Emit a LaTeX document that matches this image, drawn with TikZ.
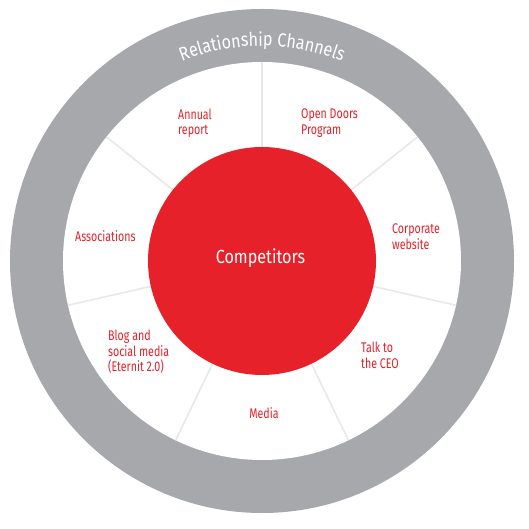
\documentclass[tikz,border=0pt]{standalone}
\usepackage{fontspec}
\usetikzlibrary{decorations.text}
\newfontfamily\labelfont{Fira Sans}[FakeStretch=0.76]
\newfontfamily\headfont{Fira Sans}[FakeStretch=0.85]
\definecolor{ringgray}{RGB}{166,168,171}
\definecolor{eternitred}{RGB}{230,33,41}
\definecolor{seplight}{RGB}{232,232,232}

\begin{document}
\begin{tikzpicture}[x=1pt, y=1pt,
    channel/.style={font=\labelfont\fontsize{14}{15.5}\selectfont, text=eternitred, align=left, inner sep=0pt, anchor=west}]

    \useasboundingbox (-262,-268) rectangle (267,261);

    % ---------------------------------------------------
    % Rings
    % ---------------------------------------------------
    \fill[ringgray] (0,0) circle[radius=252];
    \fill[white] (0,0) circle[radius=199];

    % Separators between the seven channels
    \foreach \a in {90, 38.57, -12.86, -64.29, -115.71, -167.14, 141.43} {
        \draw[seplight, line width=1.6] (\a:110) -- (\a:199);
    }

    % Centre disc
    \fill[eternitred] (0,0) circle[radius=114];
    \node[font=\headfont\fontsize{19}{22}\selectfont, text=white] (centre) at (-1.5,3) {Competitors};

    % Title along the ring
    \path[decorate, decoration={text along path, text align=center,
        text={|\headfont\fontsize{19}{22}\selectfont\color{white}|Relationship Channels}}]
        (113:215) arc[start angle=113, end angle=67, radius=215];

    % ---------------------------------------------------
    % Channel labels
    % ---------------------------------------------------
    \node[channel] (annual) at (-84,138) {Annual\\report};
    \node[channel] (opendoors) at (39,138) {Open Doors\\Program};
    \node[channel] (website) at (130,24.5) {Corporate\\website};
    \node[channel] (assoc) at (-187,25) {Associations};
    \node[channel] (blog) at (-154,-91) {Blog and\\social media\\(Eternit 2.0)};
    \node[channel] (ceo) at (99,-94.5) {Talk to\\the CEO};
    \node[channel, anchor=center] (media) at (2,-152) {Media};

\end{tikzpicture}
\end{document}
